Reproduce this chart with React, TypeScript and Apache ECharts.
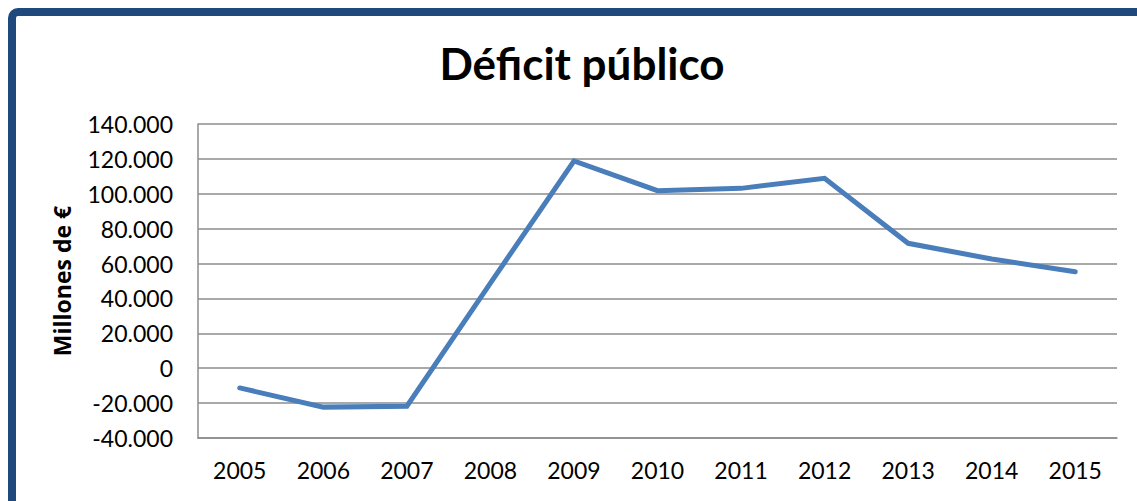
import React, { useEffect, useRef } from "react";
import * as echarts from "echarts";

const years = ["2005", "2006", "2007", "2008", "2009", "2010", "2011", "2012", "2013", "2014", "2015"];
const deficit = [-11300, -22300, -21800, 48800, 118800, 101800, 103100, 108900, 71600, 62600, 55300];
const titleText = "Déficit público";
const yAxisName = "Millones de €";

const formatThousands = (v: number): string => {
  if (v === 0) return "0";
  const sign = v < 0 ? "-" : "";
  const a = Math.abs(v);
  const th = Math.floor(a / 1000);
  const rest = String(a % 1000).padStart(3, "0");
  return sign + th + "." + rest;
};

export default function App() {
  const ref = useRef<HTMLDivElement>(null);
  useEffect(() => {
    document.body.style.margin = "0";
    const chart = echarts.init(ref.current!, null, { renderer: "svg" });
    const font = "Lato, 'Open Sans', sans-serif";
    chart.setOption({
      animation: false,
      backgroundColor: "#ffffff",
      textStyle: { fontFamily: font },
      graphic: [
        {
          type: "rect",
          shape: { x: 12, y: 12, width: 1200, height: 600, r: 6 },
          style: { fill: "none", stroke: "#1F497D", lineWidth: 8 },
          z: 10,
        },
        {
          type: "text",
          x: 582,
          y: 63,
          style: {
            text: titleText,
            fontFamily: font,
            fontSize: 44,
            fontWeight: "bold",
            fill: "#000",
            textAlign: "center",
            textVerticalAlign: "middle",
          },
        },
      ],
      grid: { left: 198, right: 20, top: 124, bottom: 63, containLabel: false },
      xAxis: {
        type: "category",
        data: years,
        boundaryGap: true,
        axisLine: { show: true, onZero: false, lineStyle: { color: "#8c8c8c", width: 1.5 } },
        axisTick: { show: false },
        axisLabel: { color: "#000", fontSize: 23, margin: 20, fontFamily: font },
        splitLine: { show: false },
      },
      yAxis: {
        type: "value",
        min: -40000,
        max: 140000,
        interval: 20000,
        name: yAxisName,
        nameLocation: "middle",
        nameRotate: 90,
        nameGap: 125,
        nameTextStyle: { color: "#000", fontSize: 23, fontWeight: "bold", fontFamily: "'Open Sans', Lato, sans-serif" },
        axisLine: { show: true, lineStyle: { color: "#8c8c8c", width: 1.5 } },
        axisTick: { show: false },
        axisLabel: {
          color: "#000",
          fontSize: 23,
          margin: 25,
          fontFamily: font,
          formatter: (v: number) => formatThousands(v),
        },
        splitLine: { show: true, lineStyle: { color: "#8c8c8c", width: 1.5 } },
      },
      series: [
        {
          type: "line",
          data: deficit,
          symbol: "none",
          lineStyle: { color: "#4A7EBB", width: 5, cap: "round", join: "miter" },
        },
      ],
    });
    return () => chart.dispose();
  }, []);
  return <div ref={ref} style={{ width: 1137, height: 501 }} />;
}
